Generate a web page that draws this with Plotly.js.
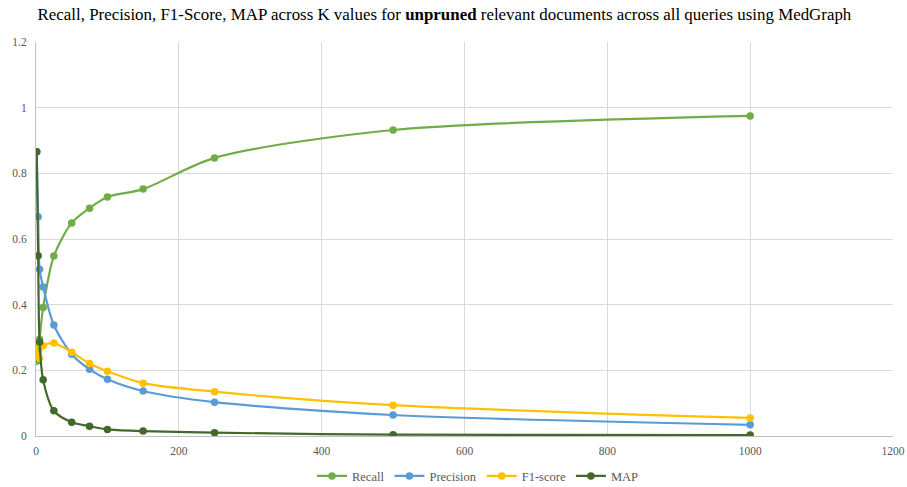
<!DOCTYPE html>
<html>
<head>
<meta charset="utf-8">
<script src="https://cdn.plot.ly/plotly-3.0.1.min.js"></script>
<style>html,body{margin:0;padding:0;background:#fff;}#chart{width:907px;height:487px;}</style>
</head>
<body>
<div id="chart"></div>
<script>
const kValues = [1, 3, 5, 10, 25, 50, 75, 100, 150, 250, 500, 1000];
const recall = [0.228, 0.25, 0.295, 0.391, 0.548, 0.649, 0.694, 0.728, 0.752, 0.847, 0.932, 0.975];
const precision = [0.866, 0.668, 0.508, 0.454, 0.338, 0.249, 0.203, 0.173, 0.137, 0.103, 0.064, 0.034];
const f1score = [0.28, 0.245, 0.237, 0.275, 0.283, 0.255, 0.221, 0.197, 0.161, 0.135, 0.094, 0.055];
const mapScore = [0.866, 0.549, 0.286, 0.171, 0.077, 0.042, 0.030, 0.020, 0.015, 0.010, 0.004, 0.003];

const seriesNames = ['Recall', 'Precision', 'F1-score', 'MAP'];
const seriesData = [recall, precision, f1score, mapScore];
const seriesColors = ['#70AD47', '#5B9BD5', '#FFC000', '#43682B'];

const traces = seriesData.map((ys, i) => ({
  x: kValues, y: ys, name: seriesNames[i], type: 'scatter', mode: 'lines+markers',
  line: {color: seriesColors[i], width: 2.2, shape: 'spline', smoothing: 0.8},
  marker: {color: seriesColors[i], size: 7.5}
}));

const font = '"Liberation Serif", "DejaVu Serif", serif';
const layout = {
  width: 907, height: 487,
  margin: {l: 36, r: 14, t: 42, b: 51, autoexpand: false},
  paper_bgcolor: '#fff', plot_bgcolor: '#fff',
  font: {family: font, color: '#595959', size: 11},
  title: {text: 'Recall, Precision, F1-Score, MAP across K values for <b>unpruned</b> relevant documents across all queries using MedGraph',
          font: {family: font, size: 16.9, color: '#000'}, x: 0.49, xanchor: 'center', xref: 'container', y: 0.972, yanchor: 'middle'},
  xaxis: {range: [0, 1200], dtick: 200, tick0: 0, showgrid: true, gridcolor: '#D9D9D9', gridwidth: 1,
          zeroline: false, showline: true, linecolor: '#BFBFBF', ticks: '', ticklabelstandoff: 4,
          tickfont: {family: font, size: 11.5, color: '#595959'}},
  yaxis: {range: [0, 1.2], dtick: 0.2, tick0: 0, showgrid: true, gridcolor: '#D9D9D9', gridwidth: 1,
          zeroline: false, showline: true, linecolor: '#BFBFBF', ticks: '', ticklabelstandoff: 6,
          tickfont: {family: font, size: 11.5, color: '#595959'}, tickformat: '~g'},
  legend: {orientation: 'h', x: 0.527, xanchor: 'center', xref: 'container', yref: 'container', y: 0.022, yanchor: 'middle',
           font: {family: font, size: 12.5, color: '#595959'}, traceorder: 'normal'},
  showlegend: true
};
Plotly.newPlot('chart', traces, layout, {displayModeBar: false, staticPlot: true});
</script>
</body>
</html>
